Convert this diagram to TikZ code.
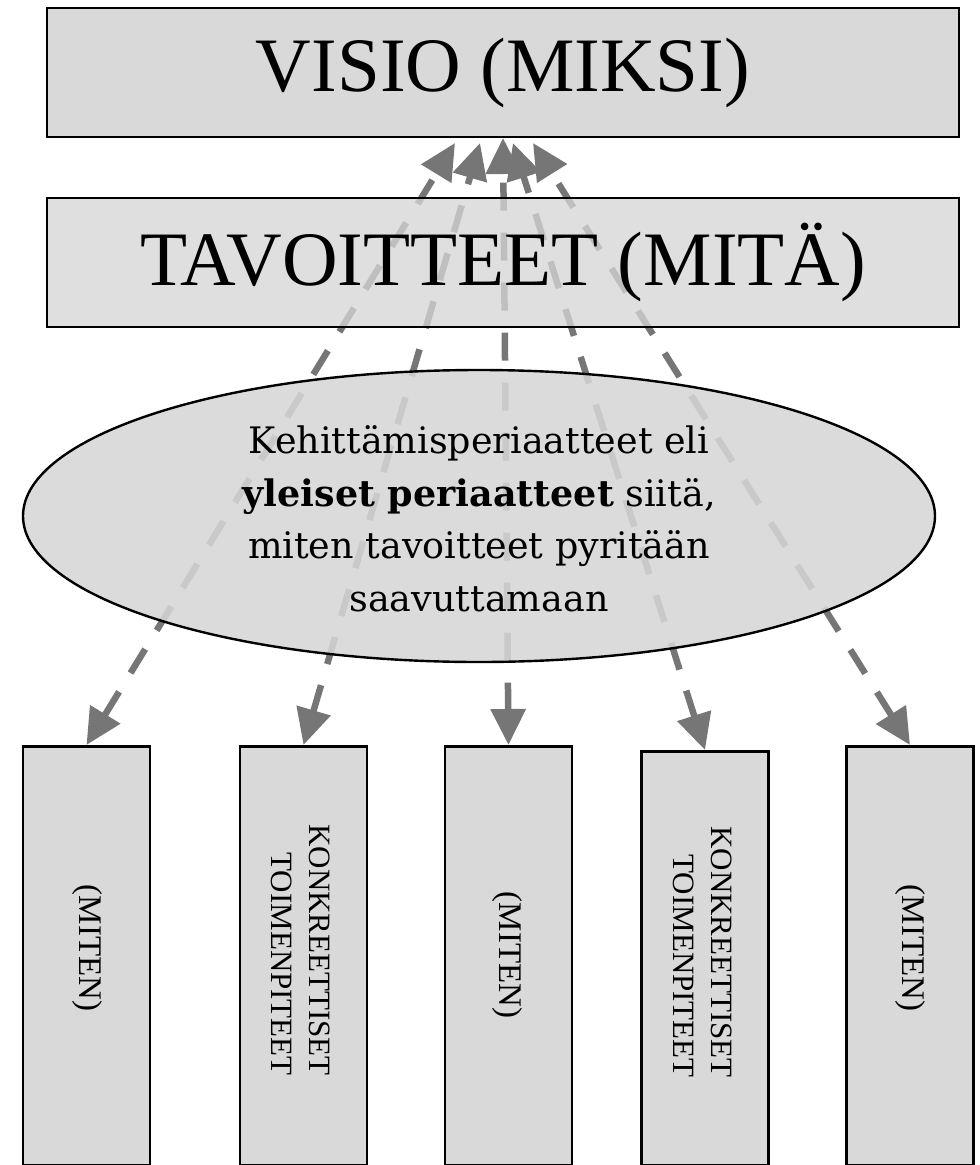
\documentclass[tikz,border=0pt]{standalone}
\usepackage{fontspec}
\setmainfont{Liberation Serif}
\newfontfamily\ellfont{DejaVu Serif}
\usetikzlibrary{shapes.geometric,arrows.meta}
\definecolor{boxgray}{RGB}{217,217,217}
\definecolor{seegray}{RGB}{214,214,214}
\definecolor{linegray}{RGB}{118,118,118}
\begin{document}
\begin{tikzpicture}[x=1pt,y=-1pt,
  topbox/.style={draw=black, line width=2.5pt, minimum width=912pt, minimum height=129pt,
    inner sep=0pt, font=\fontsize{77}{80}\selectfont},
  botbox/.style={draw=black, line width=2.5pt, fill=boxgray, minimum width=127pt,
    inner sep=0pt, anchor=north},
  bottext/.style={rotate=-90, align=right, inner sep=0pt, font=\fontsize{31}{38}\selectfont},
  mitentext/.style={rotate=-90, inner sep=0pt, font=\fontsize{33}{38}\selectfont},
  conn/.style={draw=linegray, line width=6.5pt, dash pattern=on 28pt off 22pt,
    arrows={Triangle[length=36pt,width=34pt]-Triangle[length=36pt,width=34pt]}},
  ell/.style={ellipse, draw=black, line width=2.4pt, fill=seegray, fill opacity=0.87,
    minimum width=912pt, minimum height=292pt, inner sep=0pt}
]
\useasboundingbox (0,0) rectangle (980,1165);

\node[topbox, fill=boxgray] (visio) at (503,72.5) {VISIO (MIKSI)};

\node[botbox, minimum height=419pt] (b1) at (86.5,745) {};
\node[botbox, minimum height=419pt] (b2) at (303.5,745) {};
\node[botbox, minimum height=419pt] (b3) at (508.5,745) {};
\node[botbox, minimum height=414pt] (b4) at (705,750) {};
\node[botbox, minimum height=419pt] (b5) at (910,745) {};

\node[mitentext] (m1) at (87,948) {(MITEN)};
\node[bottext] (k2) at (301,950) {KONKREETTISET\\TOIMENPITEET};
\node[mitentext] (m3) at (507,955) {(MITEN)};
\node[bottext] (k4) at (703,952) {KONKREETTISET\\TOIMENPITEET};
\node[mitentext] (m5) at (910,948) {(MITEN)};

\coordinate (t1) at (455,143);
\coordinate (t2) at (480,143);
\coordinate (t3) at (503,138);
\coordinate (t4) at (513,143);
\coordinate (t5) at (533,143);

\draw[conn] (b1.north) -- (t1);
\draw[conn] (b2.north) -- (t2);
\draw[conn] (b3.north) -- (t3);
\draw[conn] (b4.north) -- (t4);
\draw[conn] (b5.north) -- (t5);

\node[topbox, fill=seegray, fill opacity=0.77, text opacity=1] (tav) at (503,262.5) {TAVOITTEET (MITÄ)};

\node[ell] (periaate) at (479,516) {};
\node[align=center, inner sep=0pt, font=\ellfont\fontsize{36.5}{52.5}\selectfont] (ptext) at (479,519)
  {Kehittämisperiaatteet eli\\\textbf{yleiset periaatteet} siitä,\\miten tavoitteet pyritään\\saavuttamaan};
\end{tikzpicture}
\end{document}
